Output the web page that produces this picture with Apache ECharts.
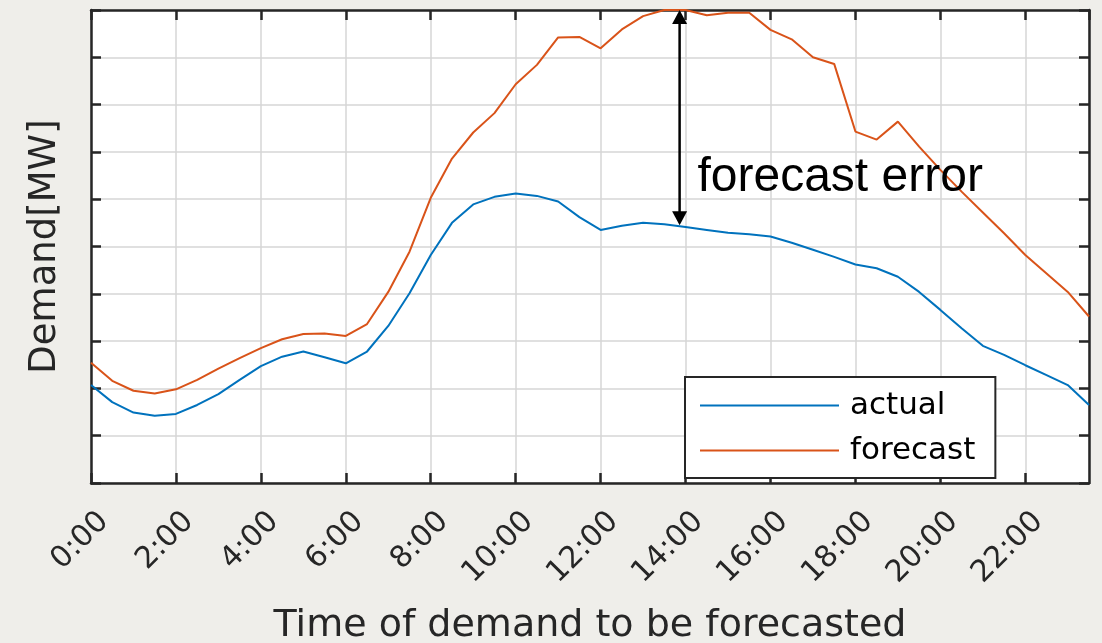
<!DOCTYPE html>
<html>
<head>
<meta charset="utf-8">
<script src="https://cdn.jsdelivr.net/npm/echarts@6/dist/echarts.min.js"></script>
<style>
  html, body { margin: 0; padding: 0; background: #efeeea; }
  #chart { width: 1102px; height: 643px; }
</style>
</head>
<body>
<div id="chart"></div>
<script>
// Half-hourly demand profile: actual vs. forecast
const timeLabels = [
  '0:00','0:30','1:00','1:30','2:00','2:30','3:00','3:30','4:00','4:30','5:00','5:30',
  '6:00','6:30','7:00','7:30','8:00','8:30','9:00','9:30','10:00','10:30','11:00','11:30',
  '12:00','12:30','13:00','13:30','14:00','14:30','15:00','15:30','16:00','16:30','17:00','17:30',
  '18:00','18:30','19:00','19:30','20:00','20:30','21:00','21:30','22:00','22:30','23:00','23:30'
];
const actual = [
  2.07, 1.71, 1.49, 1.42, 1.46, 1.65, 1.88, 2.18, 2.47, 2.67, 2.78, 2.66,
  2.53, 2.78, 3.32, 4.01, 4.82, 5.50, 5.89, 6.05, 6.12, 6.07, 5.95, 5.62,
  5.35, 5.44, 5.50, 5.47, 5.41, 5.35, 5.29, 5.26, 5.21, 5.08, 4.93, 4.78,
  4.62, 4.54, 4.36, 4.04, 3.66, 3.27, 2.90, 2.71, 2.49, 2.28, 2.07, 1.65
];
const forecast = [
  2.54, 2.16, 1.95, 1.89, 1.98, 2.18, 2.42, 2.64, 2.85, 3.04, 3.15, 3.16,
  3.11, 3.36, 4.04, 4.89, 6.03, 6.86, 7.41, 7.82, 8.43, 8.84, 9.42, 9.43,
  9.19, 9.59, 9.87, 10.0, 10.0, 9.89, 9.94, 9.94, 9.58, 9.38, 9.00, 8.86,
  7.43, 7.26, 7.64, 7.11, 6.62, 6.16, 5.72, 5.28, 4.82, 4.43, 4.04, 3.52
];
// Annotation: vertical gap between forecast and actual
const errorHour = 13.86;
const errorTop = 10.0;
const errorBottom = 5.45;
const errorLabel = 'forecast error';
const errorLabelAt = [14.28, 6.46];
const seriesNames = ['actual', 'forecast'];
const axisTitles = { x: 'Time of demand to be forecasted', y: 'Demand[MW]' };

const toHour = t => { const p = t.split(':'); return Number(p[0]) + Number(p[1]) / 60; };
const hours = timeLabels.map(toHour);
const pairs = vals => vals.map((v, i) => [hours[i], v]);

const INK = '#262626';
const FONT_UI = '"DejaVu Sans", "Noto Sans", sans-serif';

const chart = echarts.init(document.getElementById('chart'), null, { renderer: 'canvas' });

const baseX = {
  type: 'value', min: 0, max: 23.5, interval: 2,
  axisLine: { show: true, onZero: false, lineStyle: { color: INK, width: 2.5 } },
  axisTick: { show: true, inside: true, length: 10, lineStyle: { color: INK, width: 2.5 } },
  splitLine: { show: false }
};
const baseY = {
  type: 'value', min: 0, max: 10, interval: 1,
  axisLine: { show: true, onZero: false, lineStyle: { color: INK, width: 2.5 } },
  axisTick: { show: true, inside: true, length: 10, lineStyle: { color: INK, width: 2.5 } },
  axisLabel: { show: false },
  splitLine: { show: false }
};

chart.setOption({
  backgroundColor: '#efeeea',
  animation: false,
  grid: {
    left: 91, right: 13, top: 10, bottom: 160,
    containLabel: false, outerBoundsMode: 'none',
    show: true, backgroundColor: '#ffffff', borderWidth: 0
  },
  xAxis: [
    Object.assign({}, baseX, {
      position: 'bottom',
      splitLine: { show: true, lineStyle: { color: '#d6d6d6', width: 1.5 } },
      axisLabel: {
        show: true, rotate: 45, margin: 21,
        showMaxLabel: false,
        color: INK, fontSize: 30, fontFamily: FONT_UI,
        align: 'right', verticalAlign: 'top', lineHeight: 37,
        formatter: v => (v % 2 === 0 ? v.toFixed(0) + ':00' : '')
      },
      name: axisTitles.x, nameLocation: 'middle', nameGap: 124,
      nameTextStyle: { color: INK, fontSize: 38, fontFamily: FONT_UI }
    }),
    Object.assign({}, baseX, { position: 'top', axisLabel: { show: false } })
  ],
  yAxis: [
    Object.assign({}, baseY, {
      position: 'left',
      splitLine: { show: true, lineStyle: { color: '#d6d6d6', width: 1.5 } },
      name: axisTitles.y, nameLocation: 'middle', nameGap: 27,
      nameTextStyle: { color: INK, fontSize: 37, fontFamily: FONT_UI }
    }),
    Object.assign({}, baseY, { position: 'right' })
  ],
  legend: {
    orient: 'vertical',
    left: 685, top: 377,
    padding: [13, 20, 12, 15],
    itemWidth: 139, itemHeight: 28, itemGap: 14,
    backgroundColor: '#ffffff',
    borderColor: INK, borderWidth: 2, borderRadius: 0,
    icon: 'path://M0,13 L139,13 L139,15 L0,15 Z',
    textStyle: { color: '#000', fontSize: 31, fontFamily: FONT_UI, padding: [0, 0, 0, 6] },
    data: seriesNames
  },
  series: [
    {
      name: seriesNames[0], type: 'line', data: pairs(actual),
      showSymbol: false, symbol: 'none', clip: false,
      lineStyle: { color: '#0072BD', width: 2 }, itemStyle: { color: '#0072BD' }
    },
    {
      name: seriesNames[1], type: 'line', data: pairs(forecast),
      showSymbol: false, symbol: 'none', clip: false,
      lineStyle: { color: '#D95319', width: 2 }, itemStyle: { color: '#D95319' }
    }
  ]
});

// Double-headed arrow and its label, placed in data coordinates
function drawAnnotation() {
  const conv = p => chart.convertToPixel({ xAxisIndex: 0, yAxisIndex: 0 }, p);
  const top = conv([errorHour, errorTop]);
  const bot = conv([errorHour, errorBottom]);
  const txt = conv(errorLabelAt);
  const head = 14, half = 7.5;
  chart.setOption({
    graphic: [
      { type: 'line', z: 50, shape: { x1: top[0], y1: top[1] + head - 2, x2: bot[0], y2: bot[1] - head + 2 },
        style: { stroke: '#000', lineWidth: 2.5 } },
      { type: 'polygon', z: 50, shape: { points: [[top[0], top[1]], [top[0] - half, top[1] + head], [top[0] + half, top[1] + head]] },
        style: { fill: '#000' } },
      { type: 'polygon', z: 50, shape: { points: [[bot[0], bot[1]], [bot[0] - half, bot[1] - head], [bot[0] + half, bot[1] - head]] },
        style: { fill: '#000' } },
      { type: 'text', z: 50, x: txt[0], y: txt[1],
        style: { text: errorLabel, fill: '#000', font: '48px "Liberation Sans", Arial, sans-serif',
                 textAlign: 'left', textVerticalAlign: 'middle' } }
    ]
  });
}
drawAnnotation();
</script>
</body>
</html>
